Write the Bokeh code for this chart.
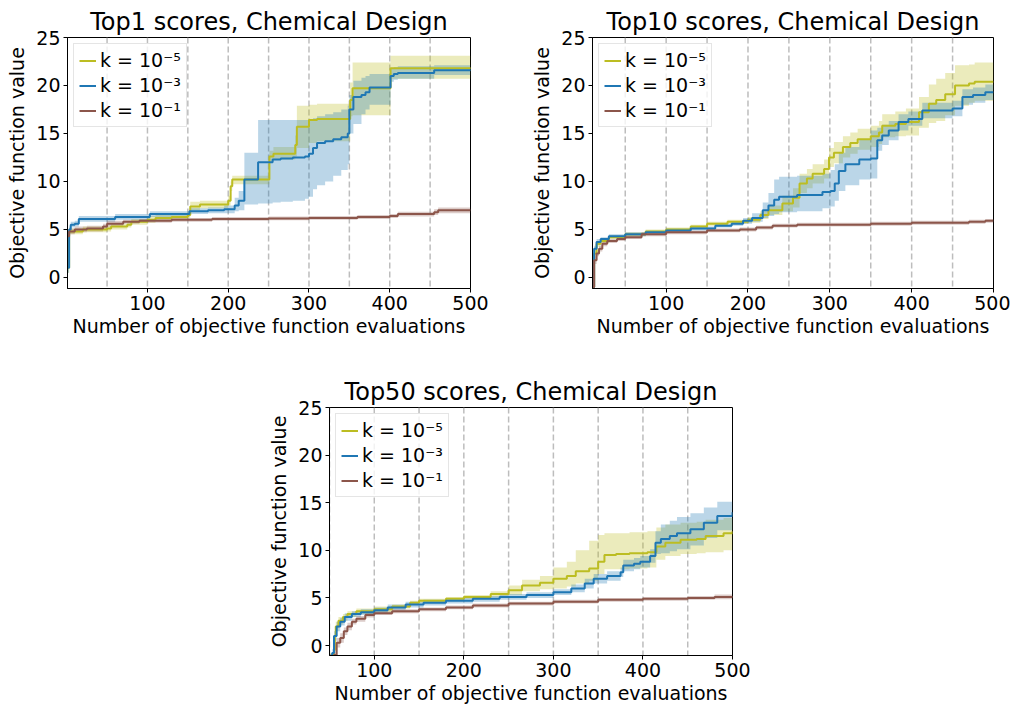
from bokeh.plotting import figure
from bokeh.models import Span, Legend, LegendItem, FixedTicker, Range1d, Spacer
from bokeh.layouts import column, row
from bokeh.embed import file_html
from bokeh.resources import INLINE

# ---------------- data ----------------
batch_marks = [50, 100, 150, 200, 250, 300, 350, 400, 450]
labels = ["k = 10\u207b\u2075", "k = 10\u207b\u00b3", "k = 10\u207b\u00b9"]
x_ticks = [100, 200, 300, 400, 500]
y_ticks = [0, 5, 10, 15, 20, 25]
titles = ["Top1 scores, Chemical Design", "Top10 scores, Chemical Design", "Top50 scores, Chemical Design"]

# Top1
t1_olive_x = [1, 3, 20, 50, 55, 75, 80, 100, 110, 130, 150, 153, 165, 200, 203, 205, 251, 256, 283, 285, 300, 310, 351, 354, 358, 401, 500]
t1_olive_y = [1.0, 4.8, 5.0, 5.1, 5.3, 5.5, 5.8, 6.0, 6.2, 6.3, 6.5, 7.4, 7.6, 8.0, 9.5, 10.2, 12.6, 12.9, 13.8, 15.7, 16.4, 16.5, 18.5, 19.7, 19.7, 21.8, 21.9]
t1_olive_lo = [0.5, 4.5, 4.7, 4.8, 5.0, 5.2, 5.5, 5.7, 5.9, 6.0, 6.2, 7.0, 7.2, 7.5, 9.0, 9.7, 12.1, 12.3, 12.6, 13.5, 14.0, 14.2, 16.8, 16.9, 16.9, 20.7, 20.7]
t1_olive_hi = [1.5, 5.1, 5.3, 5.4, 5.6, 5.8, 6.1, 6.4, 6.5, 6.6, 6.8, 7.9, 8.0, 8.5, 10.0, 10.6, 13.2, 13.6, 14.8, 17.9, 18.0, 18.1, 20.3, 22.4, 22.4, 23.1, 23.1]

t1_blue_x = [1, 3, 5, 10, 15, 60, 103, 152, 175, 195, 208, 213, 220, 237, 255, 265, 280, 295, 300, 305, 310, 320, 330, 340, 348, 350, 355, 365, 370, 375, 401, 405, 410, 455, 500]
t1_blue_y = [1.0, 5.0, 5.5, 5.6, 6.1, 6.3, 6.6, 6.9, 7.0, 7.1, 7.5, 8.0, 10.2, 12.0, 12.3, 12.4, 12.5, 12.6, 12.9, 13.5, 14.0, 14.2, 14.4, 14.6, 15.0, 17.5, 18.8, 19.0, 19.3, 19.8, 21.0, 21.2, 21.3, 21.6, 21.7]
t1_blue_lo = [0.5, 4.7, 5.2, 5.3, 5.8, 6.0, 6.3, 6.6, 6.7, 6.7, 6.9, 7.0, 7.6, 7.7, 7.8, 7.9, 8.0, 8.2, 8.4, 9.2, 9.6, 10.0, 10.6, 11.2, 11.8, 15.0, 16.0, 17.0, 17.5, 18.0, 20.4, 20.6, 20.7, 21.1, 21.2]
t1_blue_hi = [1.5, 5.3, 5.8, 5.9, 6.4, 6.6, 6.9, 7.2, 7.3, 7.5, 8.3, 9.0, 13.0, 16.4, 16.4, 16.4, 16.4, 16.4, 16.5, 16.6, 16.8, 17.0, 17.2, 17.5, 17.9, 19.0, 20.5, 20.8, 21.0, 21.2, 21.8, 21.9, 22.0, 22.1, 22.2]

t1_brown_x = [1, 3, 10, 25, 45, 50, 70, 90, 130, 180, 250, 300, 360, 400, 410, 455, 460, 500]
t1_brown_y = [4.3, 4.8, 5.0, 5.1, 5.3, 5.6, 5.8, 5.9, 6.0, 6.1, 6.15, 6.2, 6.3, 6.4, 6.6, 6.8, 7.0, 7.0]
t1_brown_sd = [0.4, 0.3, 0.3, 0.3, 0.3, 0.3, 0.2, 0.2, 0.2, 0.2, 0.2, 0.2, 0.2, 0.2, 0.25, 0.3, 0.3, 0.3]

# Top10
t10_olive_x = [10, 12, 15, 20, 30, 50, 75, 100, 130, 150, 175, 200, 215, 225, 242, 255, 263, 272, 279, 293, 299, 305, 316, 325, 334, 350, 360, 364, 380, 393, 409, 421, 430, 441, 453, 470, 477, 500]
t10_olive_y = [-1.0, 2.5, 3.5, 3.8, 4.2, 4.5, 4.8, 5.0, 5.3, 5.6, 5.8, 6.0, 6.5, 7.0, 7.7, 8.3, 9.8, 10.3, 10.8, 11.3, 12.5, 13.0, 13.6, 14.0, 14.4, 14.7, 15.1, 15.8, 16.0, 16.2, 17.2, 18.1, 18.5, 19.1, 20.0, 20.2, 20.4, 20.4]
t10_olive_sd = [0.3, 0.3, 0.3, 0.2, 0.2, 0.2, 0.2, 0.2, 0.2, 0.2, 0.2, 0.3, 0.4, 0.5, 0.8, 1.0, 1.0, 1.0, 1.0, 1.0, 1.0, 1.1, 1.1, 1.1, 1.1, 1.1, 1.2, 1.2, 1.3, 1.4, 1.6, 2.0, 2.2, 2.2, 2.1, 2.0, 2.0, 2.0]

t10_blue_x = [10, 12, 15, 20, 30, 50, 75, 100, 130, 160, 180, 194, 205, 218, 225, 232, 238, 260, 291, 301, 306, 311, 319, 336, 350, 358, 364, 372, 384, 396, 413, 450, 462, 475, 490, 500]
t10_blue_y = [-1.0, 3.0, 3.7, 4.0, 4.3, 4.5, 4.7, 4.9, 5.1, 5.4, 5.6, 5.9, 6.2, 7.0, 7.5, 8.1, 8.4, 8.6, 8.9, 9.0, 9.8, 11.1, 11.8, 12.3, 12.4, 14.3, 14.8, 15.3, 16.2, 16.5, 17.4, 17.6, 18.8, 19.0, 19.3, 19.3]
t10_blue_lo = [-1.5, 2.7, 3.4, 3.8, 4.1, 4.3, 4.5, 4.7, 4.9, 5.2, 5.4, 5.6, 5.8, 6.2, 6.4, 6.6, 6.8, 6.9, 7.2, 7.4, 8.0, 9.0, 9.6, 10.2, 10.3, 13.2, 13.8, 14.3, 15.3, 15.8, 16.6, 16.8, 18.0, 18.2, 18.5, 18.5]
t10_blue_hi = [-0.5, 3.3, 4.0, 4.2, 4.5, 4.7, 4.9, 5.1, 5.3, 5.6, 5.8, 6.2, 6.7, 7.8, 8.8, 10.2, 10.5, 10.6, 10.8, 11.2, 11.8, 13.0, 13.6, 14.4, 15.3, 15.6, 15.9, 16.3, 17.0, 17.3, 18.2, 18.4, 19.6, 19.8, 20.1, 20.1]

t10_brown_x = [10, 12, 15, 18, 22, 28, 40, 50, 70, 100, 150, 190, 210, 230, 260, 350, 400, 470, 490, 500]
t10_brown_y = [-1.0, 1.8, 2.5, 3.0, 3.5, 3.8, 4.0, 4.2, 4.5, 4.7, 4.9, 5.0, 5.2, 5.4, 5.5, 5.6, 5.7, 5.8, 5.9, 5.9]
t10_brown_sd = [0.3, 0.4, 0.3, 0.3, 0.25, 0.2, 0.2, 0.2, 0.2, 0.2, 0.2, 0.2, 0.2, 0.2, 0.2, 0.2, 0.2, 0.2, 0.2, 0.2]

# Top50
t50_olive_x = [50, 55, 56, 57, 60, 65, 70, 80, 100, 120, 140, 150, 180, 200, 230, 250, 265, 285, 300, 315, 325, 340, 350, 357, 370, 385, 405, 415, 425, 442, 460, 470, 490, 500]
t50_olive_y = [-1.2, -0.5, 1.0, 2.0, 2.6, 3.0, 3.3, 3.6, 3.8, 4.1, 4.5, 4.7, 4.9, 5.1, 5.4, 5.8, 6.3, 6.6, 7.0, 7.3, 7.8, 8.1, 8.8, 9.5, 9.6, 9.7, 9.8, 10.4, 10.8, 11.1, 11.2, 11.5, 11.8, 12.0]
t50_olive_lo = [-1.5, -1.0, 0.5, 1.5, 2.2, 2.6, 3.0, 3.3, 3.5, 3.9, 4.3, 4.5, 4.7, 4.9, 5.1, 5.3, 5.7, 5.9, 6.0, 6.2, 6.5, 6.8, 7.5, 8.0, 8.0, 8.1, 8.2, 9.0, 9.4, 9.6, 9.7, 9.8, 10.0, 10.0]
t50_olive_hi = [-0.8, 0.0, 1.5, 2.5, 3.0, 3.3, 3.6, 3.9, 4.1, 4.3, 4.7, 4.9, 5.1, 5.3, 5.7, 6.3, 6.9, 7.3, 8.2, 8.8, 10.0, 11.0, 11.6, 11.8, 11.8, 11.9, 12.0, 12.4, 12.7, 12.9, 13.0, 13.2, 13.4, 13.5]

t50_blue_x = [50, 53, 55, 58, 62, 67, 75, 85, 100, 115, 135, 155, 180, 210, 240, 270, 300, 320, 335, 345, 360, 375, 378, 390, 397, 408, 414, 420, 430, 438, 453, 468, 483, 500]
t50_blue_y = [-1.2, -0.8, 1.0, 2.0, 2.5, 3.0, 3.3, 3.5, 3.7, 4.0, 4.3, 4.5, 4.7, 4.9, 5.1, 5.3, 5.6, 6.0, 6.5, 7.0, 7.3, 7.7, 8.4, 8.6, 8.8, 9.4, 10.8, 11.2, 11.5, 11.8, 12.2, 12.9, 13.6, 14.0]
t50_blue_sd = [0.3, 0.4, 0.5, 0.5, 0.4, 0.4, 0.3, 0.3, 0.3, 0.3, 0.3, 0.3, 0.3, 0.3, 0.3, 0.3, 0.3, 0.4, 0.5, 0.5, 0.5, 0.5, 0.6, 0.6, 0.6, 0.7, 1.2, 1.5, 1.6, 1.7, 1.7, 1.6, 1.5, 1.5]

t50_brown_x = [50, 55, 58, 62, 66, 70, 75, 80, 90, 100, 120, 150, 180, 210, 250, 300, 350, 400, 450, 480, 500]
t50_brown_y = [-1.2, -1.0, 0.3, 0.8, 1.5, 2.0, 2.5, 2.8, 3.2, 3.4, 3.6, 3.8, 4.0, 4.2, 4.4, 4.6, 4.8, 4.9, 5.0, 5.1, 5.2]
t50_brown_sd = [0.3, 0.4, 0.5, 0.5, 0.4, 0.4, 0.3, 0.3, 0.25, 0.2, 0.2, 0.2, 0.2, 0.2, 0.2, 0.2, 0.2, 0.2, 0.2, 0.25, 0.3]

# ---------------- styling ----------------
FONT = "DejaVu Sans"
COLORS = ["#bcbd22", "#1f77b4", "#8c564b"]


def pm(y, sd, sign):
    return [a + sign * b for a, b in zip(y, sd)]


def make_fig(title, x_start, y_start, series, width, height, mbl, mbr, mbt, mbb):
    p = figure(width=width, height=height, output_backend="svg", toolbar_location=None,
               x_range=Range1d(x_start, 500), y_range=Range1d(y_start, 25),
               min_border_left=mbl, min_border_right=mbr,
               min_border_top=mbt, min_border_bottom=mbb)
    p.title.text = title
    p.title.text_font = FONT
    p.title.text_font_size = "24px"
    p.title.text_font_style = "normal"
    p.title.text_color = "black"
    p.title.align = "center"
    p.title.standoff = 3
    p.xgrid.visible = False
    p.ygrid.visible = False
    p.outline_line_color = "black"
    p.outline_line_alpha = 1
    p.outline_line_width = 1
    p.background_fill_color = "white"
    p.border_fill_color = "white"

    for ax in (p.xaxis[0], p.yaxis[0]):
        ax.major_label_text_font = FONT
        ax.major_label_text_font_size = "19px"
        ax.major_label_text_color = "black"
        ax.axis_label_text_font = FONT
        ax.axis_label_text_font_size = "19px"
        ax.axis_label_text_font_style = "normal"
        ax.axis_label_text_color = "black"
        ax.major_tick_out = 4
        ax.major_tick_in = 0
        ax.minor_tick_out = 0
        ax.minor_tick_in = 0
        ax.axis_line_color = "black"
        ax.major_tick_line_color = "black"
        ax.major_label_standoff = 3
    p.xaxis[0].ticker = FixedTicker(ticks=x_ticks)
    p.yaxis[0].ticker = FixedTicker(ticks=y_ticks)
    p.xaxis[0].axis_label = "Number of objective function evaluations"
    p.yaxis[0].axis_label = "Objective function value"
    p.xaxis[0].axis_label_standoff = 2
    p.yaxis[0].axis_label_standoff = 5

    for b in batch_marks:
        p.add_layout(Span(location=b, dimension="height", line_color="#bdbdbd",
                          line_width=1.5, line_dash="6 3", level="underlay"))

    items = []
    for (lab, col, xs, ys, lo, hi) in series:
        p.varea_step(x=xs, y1=lo, y2=hi, step_mode="after", fill_color=col, fill_alpha=0.3)
    for (lab, col, xs, ys, lo, hi) in series:
        r = p.step(x=xs, y=ys, mode="after", line_color=col, line_width=2)
        items.append(LegendItem(label=lab, renderers=[r]))

    leg = Legend(items=items, location="top_left")
    leg.label_text_font = FONT
    leg.label_text_font_size = "19px"
    leg.label_text_color = "black"
    leg.label_height = 21
    leg.glyph_height = 21
    leg.glyph_width = 17
    leg.label_standoff = 4
    leg.spacing = 3
    leg.padding = 5
    leg.margin = 6
    leg.border_line_color = "#cccccc"
    leg.border_line_width = 1
    leg.background_fill_alpha = 0.8
    p.add_layout(leg)
    return p


s1 = [
    (labels[0], COLORS[0], t1_olive_x, t1_olive_y, t1_olive_lo, t1_olive_hi),
    (labels[1], COLORS[1], t1_blue_x, t1_blue_y, t1_blue_lo, t1_blue_hi),
    (labels[2], COLORS[2], t1_brown_x, t1_brown_y, pm(t1_brown_y, t1_brown_sd, -1), pm(t1_brown_y, t1_brown_sd, 1)),
]
s2 = [
    (labels[0], COLORS[0], t10_olive_x, t10_olive_y, pm(t10_olive_y, t10_olive_sd, -1), pm(t10_olive_y, t10_olive_sd, 1)),
    (labels[1], COLORS[1], t10_blue_x, t10_blue_y, t10_blue_lo, t10_blue_hi),
    (labels[2], COLORS[2], t10_brown_x, t10_brown_y, pm(t10_brown_y, t10_brown_sd, -1), pm(t10_brown_y, t10_brown_sd, 1)),
]
s3 = [
    (labels[0], COLORS[0], t50_olive_x, t50_olive_y, t50_olive_lo, t50_olive_hi),
    (labels[1], COLORS[1], t50_blue_x, t50_blue_y, pm(t50_blue_y, t50_blue_sd, -1), pm(t50_blue_y, t50_blue_sd, 1)),
    (labels[2], COLORS[2], t50_brown_x, t50_brown_y, pm(t50_brown_y, t50_brown_sd, -1), pm(t50_brown_y, t50_brown_sd, 1)),
]

p1 = make_fig(titles[0], 1, -1.15, s1, width=525, height=340, mbl=67, mbr=55, mbt=37, mbb=52)
p2 = make_fig(titles[1], 10, -1.15, s2, width=485, height=340, mbl=67, mbr=17, mbt=37, mbb=52)
p3 = make_fig(titles[2], 50, -1.05, s3, width=490, height=366, mbl=67, mbr=20, mbt=67, mbb=49)

layout = column(row(p1, p2), row(Spacer(width=262, height=10), p3))

open("out.html", "w").write(file_html(layout, INLINE))
